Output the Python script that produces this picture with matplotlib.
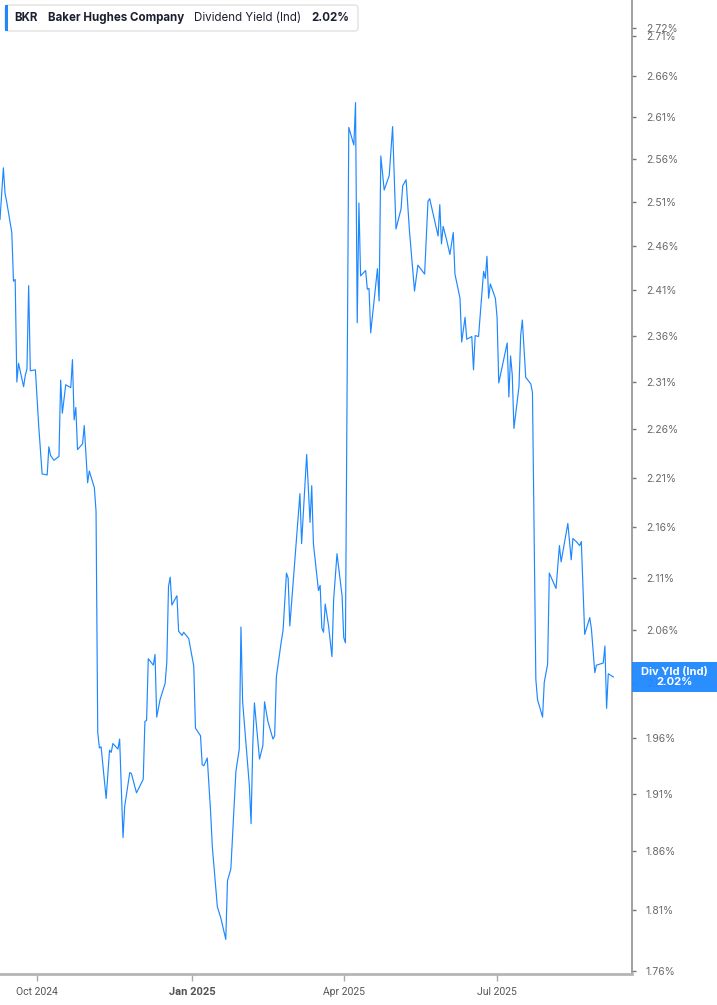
import matplotlib
matplotlib.use("Agg")
import matplotlib.pyplot as plt
from matplotlib.patches import FancyBboxPatch, Rectangle
from matplotlib.ticker import FixedLocator, NullLocator
import numpy as np
import pandas as pd

plt.rcParams['font.family'] = ['Inter', 'DejaVu Sans']

ticker = "BKR"
company = "Baker Hughes Company"
metric = "Dividend Yield (Ind)"
short_metric = "Div Yld (Ind)"

dates = [
    "2024-09-09", "2024-09-11", "2024-09-12", "2024-09-13", "2024-09-16", "2024-09-17", "2024-09-18",
    "2024-09-19", "2024-09-20", "2024-09-23", "2024-09-24", "2024-09-25", "2024-09-26", "2024-09-27",
    "2024-09-30",
    "2024-10-02", "2024-10-04", "2024-10-07", "2024-10-08", "2024-10-09", "2024-10-11", "2024-10-14",
    "2024-10-15", "2024-10-16", "2024-10-18", "2024-10-21", "2024-10-22", "2024-10-23", "2024-10-24",
    "2024-10-25", "2024-10-28", "2024-10-29", "2024-10-31",
    "2024-11-01", "2024-11-04", "2024-11-05", "2024-11-06", "2024-11-07", "2024-11-08", "2024-11-11",
    "2024-11-13", "2024-11-14", "2024-11-15", "2024-11-18", "2024-11-19", "2024-11-21", "2024-11-22",
    "2024-11-25", "2024-11-26", "2024-11-29",
    "2024-12-03", "2024-12-04", "2024-12-05", "2024-12-06", "2024-12-09", "2024-12-10", "2024-12-11",
    "2024-12-13", "2024-12-16", "2024-12-17", "2024-12-18", "2024-12-19", "2024-12-20", "2024-12-23",
    "2024-12-24", "2024-12-26", "2024-12-27", "2024-12-30",
    "2025-01-02", "2025-01-03", "2025-01-06", "2025-01-07", "2025-01-08", "2025-01-10", "2025-01-12",
    "2025-01-13", "2025-01-16", "2025-01-18", "2025-01-21", "2025-01-22", "2025-01-24", "2025-01-27",
    "2025-01-29", "2025-01-30", "2025-01-31",
    "2025-02-04", "2025-02-05", "2025-02-06", "2025-02-07", "2025-02-10", "2025-02-12", "2025-02-13",
    "2025-02-15", "2025-02-18", "2025-02-19", "2025-02-20", "2025-02-23", "2025-02-24", "2025-02-26",
    "2025-02-27", "2025-02-28",
    "2025-03-02", "2025-03-06", "2025-03-07", "2025-03-10", "2025-03-12", "2025-03-13", "2025-03-14",
    "2025-03-17", "2025-03-18", "2025-03-19", "2025-03-20", "2025-03-21", "2025-03-23", "2025-03-25",
    "2025-03-26", "2025-03-28", "2025-03-31",
    "2025-04-01", "2025-04-02", "2025-04-04", "2025-04-07", "2025-04-08", "2025-04-09", "2025-04-10",
    "2025-04-11", "2025-04-14", "2025-04-15", "2025-04-16", "2025-04-17", "2025-04-21", "2025-04-22",
    "2025-04-23", "2025-04-25", "2025-04-28", "2025-04-30",
    "2025-05-02", "2025-05-05", "2025-05-06", "2025-05-08", "2025-05-10", "2025-05-13", "2025-05-15",
    "2025-05-19", "2025-05-21", "2025-05-22", "2025-05-27", "2025-05-28", "2025-05-29", "2025-05-30",
    "2025-06-01", "2025-06-03", "2025-06-05", "2025-06-06", "2025-06-09", "2025-06-10", "2025-06-12",
    "2025-06-13", "2025-06-16", "2025-06-17", "2025-06-18", "2025-06-20", "2025-06-23", "2025-06-24",
    "2025-06-25", "2025-06-26", "2025-06-27", "2025-06-30",
    "2025-07-01", "2025-07-02", "2025-07-07", "2025-07-08", "2025-07-09", "2025-07-10", "2025-07-11",
    "2025-07-14", "2025-07-15", "2025-07-16", "2025-07-18", "2025-07-21", "2025-07-22", "2025-07-24",
    "2025-07-25", "2025-07-28", "2025-07-29", "2025-07-31",
    "2025-08-01", "2025-08-05", "2025-08-07", "2025-08-08", "2025-08-12", "2025-08-14", "2025-08-15",
    "2025-08-17", "2025-08-19", "2025-08-20", "2025-08-22", "2025-08-25", "2025-08-26", "2025-08-28",
    "2025-08-29",
    "2025-09-02", "2025-09-03", "2025-09-04", "2025-09-05", "2025-09-08",
]

yield_pct = [
    2.49, 2.55, 2.52, 2.51, 2.475, 2.42, 2.422, 2.31, 2.33, 2.305, 2.317, 2.324, 2.415, 2.322, 2.323,
    2.263, 2.214, 2.213, 2.242, 2.233, 2.228, 2.232, 2.312, 2.277, 2.307, 2.304, 2.334, 2.270, 2.283,
    2.239, 2.245, 2.264, 2.205,
    2.217, 2.200, 2.176, 1.965, 1.951, 1.952, 1.906, 1.949, 1.947, 1.955, 1.950, 1.959, 1.872, 1.899,
    1.929, 1.928, 1.911,
    1.923, 1.975, 1.976, 2.033, 2.027, 2.037, 1.979, 1.995, 2.010, 2.030, 2.102, 2.111, 2.084, 2.093,
    2.059, 2.055, 2.058, 2.052,
    2.026, 1.969, 1.962, 1.936, 1.935, 1.942, 1.894, 1.864, 1.813, 1.804, 1.786, 1.835, 1.845, 1.930,
    1.950, 2.063, 1.993,
    1.917, 1.884, 1.953, 1.992, 1.941, 1.953, 1.993, 1.975, 1.959, 1.962, 2.016, 2.050, 2.060, 2.115,
    2.110, 2.064,
    2.106, 2.194, 2.144, 2.234, 2.165, 2.202, 2.144, 2.098, 2.103, 2.062, 2.058, 2.085, 2.064, 2.035,
    2.089, 2.134, 2.093,
    2.053, 2.048, 2.598, 2.577, 2.628, 2.374, 2.509, 2.426, 2.432, 2.411, 2.412, 2.363, 2.434, 2.398,
    2.564, 2.524, 2.541, 2.599,
    2.479, 2.502, 2.529, 2.536, 2.477, 2.409, 2.438, 2.428, 2.511, 2.514, 2.471, 2.507, 2.462, 2.482,
    2.467, 2.450, 2.475, 2.428, 2.401, 2.353, 2.380, 2.356, 2.359, 2.323, 2.360, 2.359, 2.431, 2.423,
    2.448, 2.401, 2.417, 2.401,
    2.380, 2.309, 2.352, 2.294, 2.338, 2.318, 2.261, 2.305, 2.360, 2.377, 2.315, 2.308, 2.299, 2.014,
    1.995, 1.979, 2.011, 2.028,
    2.115, 2.100, 2.142, 2.126, 2.164, 2.128, 2.149, 2.146, 2.142, 2.146, 2.056, 2.072, 2.061, 2.020,
    2.027,
    2.029, 2.045, 1.987, 2.019, 2.016,
]

y_ticks = [1.76, 1.81, 1.86, 1.91, 1.96, 2.01, 2.06, 2.11, 2.16, 2.21, 2.26, 2.31, 2.36, 2.41,
           2.46, 2.51, 2.56, 2.61, 2.66, 2.71, 2.72]
x_ticks = ["2024-10-01", "2025-01-01", "2025-04-01", "2025-07-01"]
x_tick_labels = ["Oct 2024", "Jan 2025", "Apr 2025", "Jul 2025"]

line_color = "#1e88ff"
W, H = 717, 1005

x = pd.to_datetime(dates)
fig = plt.figure(figsize=(W / 100, H / 100), dpi=100)
ax = fig.add_axes([0, 31 / H, 632 / W, 1 - 31 / H])

ax.plot(x, yield_pct, color=line_color, linewidth=0.85)

ax.set_yscale("log")
ax.set_ylim(1.7577, 2.7554)
start = pd.Timestamp("2024-09-09")
ax.set_xlim(start, start + pd.Timedelta(days=632 / 1.685))

ax.yaxis.set_major_locator(FixedLocator(y_ticks))
ax.yaxis.set_minor_locator(NullLocator())
ax.set_yticklabels([f"{v:.2f}%" for v in y_ticks])
ax.yaxis.tick_right()
ax.tick_params(axis="y", which="major", length=3, width=1, color="#777777",
               labelsize=7.5, labelcolor="#6b6b6b", pad=7)

ax.set_xticks(pd.to_datetime(x_ticks))
ax.set_xticklabels(x_tick_labels)
ax.tick_params(axis="x", length=5, width=1, color="#aaaaaa", labelsize=7.5,
               labelcolor="#555555", pad=4)
for lbl in ax.get_xticklabels():
    lbl.set_family(["Roboto", "DejaVu Sans"])
    if lbl.get_text().startswith("Jan"):
        lbl.set_fontweight("bold")
        lbl.set_fontsize(8)

for side in ["top", "left"]:
    ax.spines[side].set_visible(False)
ax.spines["right"].set_color("#999999")
ax.spines["right"].set_linewidth(1.3)
ax.spines["bottom"].set_color("#b5b5b5")
ax.spines["bottom"].set_linewidth(2)

# end-of-line value tag
last = yield_pct[-1]
half = 15 / 2166
tag = Rectangle((1.0, last * np.exp(-half)), W / 632 - 1.0, last * (np.exp(half) - np.exp(-half)),
                transform=ax.get_yaxis_transform(), facecolor=line_color, edgecolor="none",
                alpha=0.95, clip_on=False, zorder=5)
ax.add_patch(tag)
ax.text((1 + W / 632) / 2, last, f"{short_metric}\n{last:.2f}%", transform=ax.get_yaxis_transform(),
        ha="center", va="center", color="white", fontsize=8, fontweight="bold",
        linespacing=1.0, zorder=6, clip_on=False)

# header legend box
def fx(px):
    return px / W

def fy(py):
    return 1 - py / H

box = FancyBboxPatch((fx(5), fy(31)), fx(353), 26 / H, boxstyle="round,pad=0,rounding_size=0.004",
                     transform=fig.transFigure, facecolor="white", edgecolor="#e2e2e2", linewidth=1)
fig.patches.append(box)
bar = Rectangle((fx(5), fy(31)), fx(3), 26 / H, transform=fig.transFigure,
                facecolor=line_color, edgecolor="none")
fig.patches.append(bar)
txt_color = "#1c1f2e"
fig.text(fx(14), fy(18), ticker, fontsize=8.3, fontweight="bold", color=txt_color, va="center")
fig.text(fx(48), fy(18), company, fontsize=8.3, fontweight="bold", color=txt_color, va="center")
fig.text(fx(194), fy(18), metric, fontsize=8.3, color=txt_color, va="center")
fig.text(fx(311), fy(18), f"{last:.2f}%", fontsize=8.3, fontweight="bold", color=txt_color, va="center")

fig.savefig("out.png", dpi=100, facecolor="white")
